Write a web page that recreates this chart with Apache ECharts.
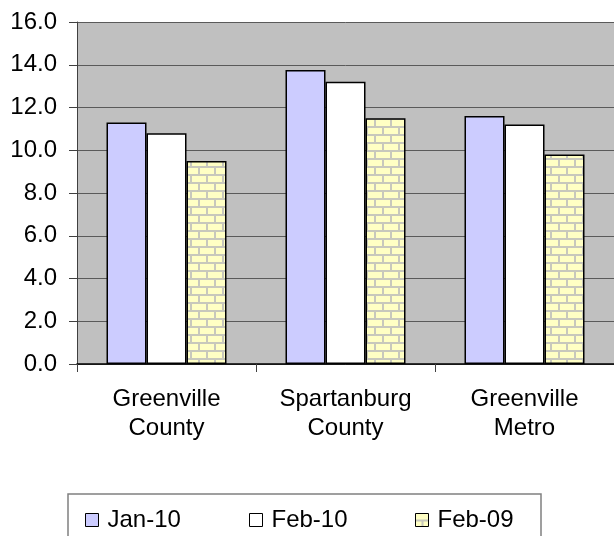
<!DOCTYPE html>
<html>
<head>
<meta charset="utf-8">
<script src="https://cdn.jsdelivr.net/npm/echarts@6/dist/echarts.min.js"></script>
<style>
html,body{margin:0;padding:0;background:#fff;}
#c{width:614px;height:536px;}
</style>
</head>
<body>
<div id="c"></div>
<script>
var categories = ['Greenville\nCounty', 'Spartanburg\nCounty', 'Greenville\nMetro'];
var seriesNames = ['Jan-10', 'Feb-10', 'Feb-09'];
var jan10 = [11.3, 13.75, 11.6];
var feb10 = [10.8, 13.2, 11.2];
var feb09 = [9.5, 11.5, 9.8];
var yTicks = { min: 0, max: 16, interval: 2 };

function brick() {
  var c = document.createElement('canvas');
  c.width = 16; c.height = 16;
  var g = c.getContext('2d');
  g.fillStyle = '#C8C8BC';
  g.fillRect(0, 0, 16, 16);
  g.fillStyle = '#FFFFC4';
  g.fillRect(0, 0, 14, 6);
  g.fillRect(8, 8, 14, 6);
  g.fillRect(-8, 8, 14, 6);
  return c;
}
var brickFill = { image: brick(), repeat: 'repeat' };

var chart = echarts.init(document.getElementById('c'), null, { renderer: 'canvas' });
var font = 'Liberation Sans, Arial, sans-serif';
var border = { borderColor: '#000', borderWidth: 1.5 };

function legendAt(name, left) {
  return {
    data: [name], left: left, top: 503, itemWidth: 13, itemHeight: 13, itemGap: 0,
    icon: 'rect',
    textStyle: { fontFamily: font, fontSize: 24, color: '#000', padding: [0, 0, 0, 4] },
    itemStyle: { borderColor: '#000', borderWidth: 1 },
    selectedMode: false
  };
}

chart.setOption({
  animation: false,
  backgroundColor: '#fff',
  grid: { left: 77, right: -5, top: 22, bottom: 172, show: true, backgroundColor: '#C0C0C0', borderWidth: 0 },
  xAxis: {
    type: 'category', data: categories, boundaryGap: true,
    axisLine: { lineStyle: { color: '#000', width: 1.5 } },
    axisTick: { show: true, length: 8, lineStyle: { color: '#404040' } },
    axisLabel: { fontFamily: font, fontSize: 24, color: '#000', lineHeight: 29, margin: 21 }
  },
  yAxis: {
    type: 'value', min: yTicks.min, max: yTicks.max, interval: yTicks.interval,
    axisLine: { show: true, lineStyle: { color: '#404040', width: 1 } },
    axisTick: { show: true, length: 8, lineStyle: { color: '#404040' } },
    axisLabel: { fontFamily: font, fontSize: 24, color: '#000', margin: 20,
      formatter: function (v) { return v.toFixed(1); } },
    splitLine: { lineStyle: { color: '#5A5A5A', width: 1 } }
  },
  legend: [legendAt(seriesNames[0], 80), legendAt(seriesNames[1], 244), legendAt(seriesNames[2], 410)],
  graphic: [{
    type: 'rect', shape: { x: 68, y: 494, width: 473, height: 60 },
    style: { fill: 'none', stroke: '#808080', lineWidth: 1.5 }, silent: true, z: 100
  }],
  series: [
    { name: seriesNames[0], type: 'bar', data: jan10, barWidth: 40, barGap: '0%',
      itemStyle: Object.assign({ color: '#CCCCFF' }, border) },
    { name: seriesNames[1], type: 'bar', data: feb10, barWidth: 40, barGap: '0%',
      itemStyle: Object.assign({ color: '#FFFFFF' }, border) },
    { name: seriesNames[2], type: 'bar', data: feb09, barWidth: 40, barGap: '0%',
      itemStyle: Object.assign({ color: brickFill }, border) }
  ]
});
</script>
</body>
</html>
